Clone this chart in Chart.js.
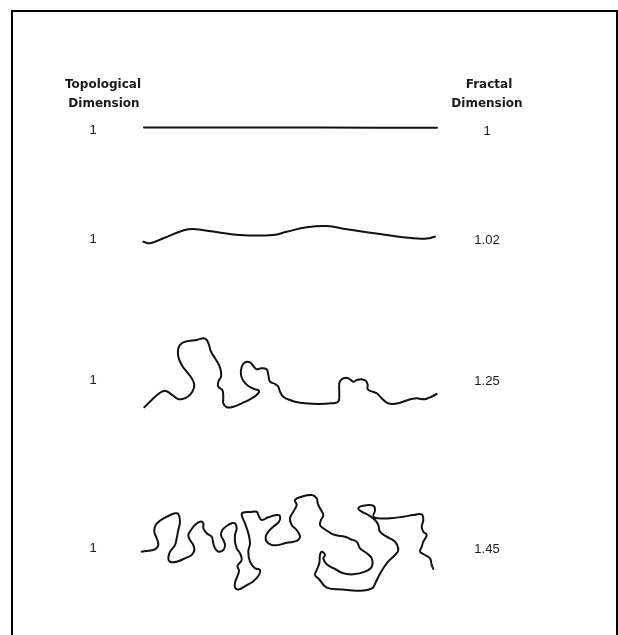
<!DOCTYPE html>
<html>
<head>
<meta charset="utf-8">
<script src="https://cdn.jsdelivr.net/npm/chart.js@4"></script>
<style>
    body { margin: 0; background: #fff; }
    #wrap { width: 618px; height: 635px; }
</style>
</head>
<body>
<div id="wrap"><canvas id="myChart" width="618" height="635"></canvas></div>
<script>
// curves (x, y in figure units, y grows downward)
const lineX = [144, 200, 260, 320, 380, 437];
const lineY = [127.5, 127.5, 127.5, 127.5, 127.8, 127.8];

const curve102X = [143.3, 150, 163.3, 188.3, 206.7, 240, 273.3, 286.7, 306.7, 326.7, 346.7, 380, 413.3, 427, 435];
const curve102Y = [241.7, 243.3, 238.3, 229.3, 230.7, 235, 235, 231.7, 227.3, 226, 229.3, 234, 238.3, 238.5, 236.7];

const curve125X = [144.3, 151.7, 160, 165, 170, 176.7, 181.7, 187.7, 192.3, 194.3, 191.7, 186.7, 181.7, 178.3, 178.3, 181.7, 188.3, 196.7, 203.3, 206.7, 209, 211, 215, 219, 221, 221, 218.3, 218.3, 222.3, 223.3, 223.3, 226.7, 233.3, 241.7, 250, 256.7, 259, 255, 248.3, 243.3, 241, 241.7, 245, 250, 253.3, 256.7, 261, 266.7, 268.3, 270, 275, 278.3, 280, 283.3, 290, 295, 305, 318.3, 331.7, 338.3, 339.3, 339.3, 341.7, 345.7, 350, 353.3, 356.7, 361.7, 366, 367.7, 367.7, 372.3, 376.7, 381.7, 386.7, 391.7, 398.3, 405, 411.7, 416.7, 421.7, 425, 430, 436.7];
const curve125Y = [407.3, 400, 392.7, 390.7, 393.3, 398.3, 399.3, 396.7, 391.7, 385, 378.3, 371.7, 365, 356.7, 348.3, 343.3, 341, 340, 338.3, 340, 345, 351.7, 358.3, 365, 371.7, 376.7, 381.7, 386.7, 390, 396.7, 403.3, 407.3, 406.7, 403.3, 399.3, 395, 390.7, 389.3, 386, 380.7, 375, 366.7, 362.3, 362.3, 366, 369.3, 368.3, 369.3, 375, 381.7, 384, 386.7, 391.7, 396.7, 400, 401.7, 403.3, 404, 403.3, 401.7, 393.3, 383.3, 379.3, 377.7, 379.3, 381.7, 380, 379.3, 381, 385, 389.3, 391.7, 393.3, 398.3, 402.7, 404, 403.3, 401, 399, 398.3, 399, 399.3, 397.3, 394];

const curve145X = [141.7, 148.3, 155, 158.3, 156.7, 154.3, 155.7, 161, 168.3, 175, 178.3, 180, 178.3, 176.7, 175, 170, 168.3, 170, 176.7, 185, 191.7, 194.3, 193.3, 190, 188.3, 191, 195, 200, 203.3, 203.3, 206.7, 211.7, 213.3, 215, 218.3, 223.3, 225, 223.3, 221, 222.3, 226.7, 231.7, 235, 236.7, 235, 235, 236.7, 240, 241.7, 237.5, 239, 237, 235, 235, 238.5, 246, 253, 258.3, 260, 255, 250, 248.3, 250, 248.3, 245, 241.7, 243.3, 250, 256.7, 258.3, 261.7, 268.3, 276.7, 280, 279, 273.3, 268.3, 265.7, 266.7, 271.7, 278.3, 285, 293.3, 298.3, 300, 296.7, 291.7, 290, 293.3, 296.7, 295, 301.7, 311.7, 316.7, 317.7, 320, 323.3, 321, 320, 323.3, 328.3, 335, 345, 350, 356.7, 360, 366.7, 371.7, 371.7, 365, 353.3, 343.3, 335, 326.7, 323.3, 325, 321.7, 320, 319.3, 316.7, 315, 318.9, 326.8, 342.5, 358.3, 372, 376, 380, 386.7, 395, 398.3, 395, 386.7, 380, 378.3, 375, 368.3, 361.7, 358.3, 363.3, 373.3, 375, 373.3, 378.3, 390, 403.3, 413.3, 421.7, 423.3, 421.7, 423.3, 426.7, 423.3, 421.7, 420, 425, 430, 431.7, 433.3];
const curve145Y = [551.7, 550.7, 549.3, 545, 538.3, 531.7, 525, 520, 516, 513.3, 514, 521.7, 530, 538.3, 545, 551.7, 558.3, 561.7, 561.7, 558.3, 555, 550, 545, 540, 535, 530, 525, 521.7, 523.3, 528.3, 533.3, 536.7, 543.3, 548.3, 551.7, 550, 545, 540, 535, 530, 526, 523.3, 523.3, 528.3, 535, 541.7, 548.3, 553.3, 560, 566, 571, 577, 583, 587.5, 589.5, 585.6, 581.5, 576, 570, 568.3, 561.7, 551.7, 543.3, 533.3, 523.3, 515, 512.5, 512, 511.7, 515, 520, 517.3, 515, 516, 521.7, 526.7, 531.7, 536.7, 541.7, 545, 545, 543.3, 541.7, 540, 536, 530, 525, 518.3, 511.7, 505, 500, 496.7, 495, 498.3, 503.3, 508.3, 515, 520, 525, 528.3, 531.7, 535, 536.7, 539, 541.7, 548.3, 553.3, 558.3, 566.7, 571.7, 574.3, 573.3, 569, 564.3, 558.3, 555, 551.7, 555, 563.3, 570, 575, 579, 587.6, 589.5, 590.7, 588.3, 581.7, 573.8, 563.3, 555, 550, 541.7, 536.7, 531.7, 525, 520, 515, 511.7, 508.3, 505.7, 505.7, 510, 516.7, 518.3, 518.3, 516.7, 515, 514.3, 520, 526.7, 531.7, 535, 541.7, 546.7, 551.7, 555, 558.3, 565, 569];

const topologicalDims = ['1', '1', '1', '1'];
const fractalDims = ['1', '1.02', '1.25', '1.45'];

// layout of the text around the curves (figure units)
const rowCenters = [130, 239, 380, 548];
const leftColumn = 93;
const rightColumn = 487;

const toPoints = (xs, ys) => xs.map((x, i) => ({ x: x, y: ys[i] }));

const curveStyle = {
    showLine: true,
    borderColor: '#111',
    borderWidth: 2,
    pointRadius: 0,
    tension: 0.4,
    borderCapStyle: 'round',
    borderJoinStyle: 'round',
    fill: false
};

const figurePlugin = {
    id: 'figureText',
    afterDraw(chart) {
        const ctx = chart.ctx;
        const sx = v => chart.scales.x.getPixelForValue(v);
        const sy = v => chart.scales.y.getPixelForValue(v);

        // frame
        ctx.save();
        ctx.strokeStyle = '#000';
        ctx.lineWidth = 2;
        ctx.beginPath();
        ctx.moveTo(sx(12), sy(635));
        ctx.lineTo(sx(12), sy(11));
        ctx.lineTo(sx(617), sy(11));
        ctx.lineTo(sx(617), sy(635));
        ctx.stroke();

        ctx.fillStyle = '#1a1a1a';
        ctx.textAlign = 'center';
        ctx.textBaseline = 'alphabetic';
        ctx.font = 'bold 12px "DejaVu Sans"';
        ctx.fillText('Topological', sx(103), sy(88));
        ctx.fillText('Dimension', sx(104), sy(107));
        ctx.fillText('Fractal', sx(489), sy(88));
        ctx.fillText('Dimension', sx(487), sy(107));

        ctx.font = '13px "Liberation Sans"';
        ctx.textBaseline = 'middle';
        rowCenters.forEach((yc, i) => {
            ctx.fillText(topologicalDims[i], sx(leftColumn), sy(yc));
            ctx.fillText(fractalDims[i], sx(rightColumn), sy(yc + 1));
        });
        ctx.restore();
    }
};

const ctx = document.getElementById('myChart').getContext('2d');
new Chart(ctx, {
    type: 'scatter',
    data: {
        datasets: [
            { label: '1', data: toPoints(lineX, lineY), ...curveStyle, tension: 0 },
            { label: '1.02', data: toPoints(curve102X, curve102Y), ...curveStyle },
            { label: '1.25', data: toPoints(curve125X, curve125Y), ...curveStyle },
            { label: '1.45', data: toPoints(curve145X, curve145Y), ...curveStyle }
        ]
    },
    options: {
        responsive: false,
        animation: false,
        layout: { padding: 0 },
        scales: {
            x: { type: 'linear', min: 0, max: 618, display: false },
            y: { type: 'linear', min: 0, max: 635, reverse: true, display: false }
        },
        plugins: {
            legend: { display: false },
            tooltip: { enabled: false }
        }
    },
    plugins: [figurePlugin]
});
</script>
</body>
</html>
